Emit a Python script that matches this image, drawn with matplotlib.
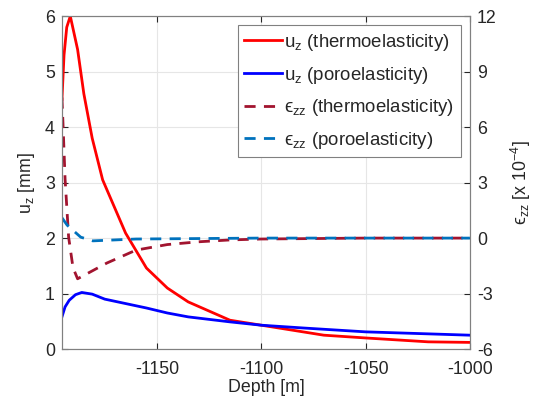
import matplotlib
matplotlib.use("Agg")
import matplotlib.pyplot as plt

plt.rcParams['font.family'] = ['Liberation Sans', 'DejaVu Sans']
plt.rcParams['mathtext.fontset'] = 'custom'
plt.rcParams['mathtext.rm'] = 'Liberation Sans'
plt.rcParams['mathtext.it'] = 'Liberation Sans:italic'
plt.rcParams['axes.unicode_minus'] = False

# u_z thermoelasticity [mm]
depth_ut = [-1195.5, -1194.5, -1193.2, -1191.5, -1188, -1185, -1181, -1176, -1165,
            -1155, -1145, -1135, -1115, -1100, -1080, -1070, -1050, -1020, -1000]
uz_thermo = [4.5, 5.3, 5.8, 6.0, 5.4, 4.6, 3.8, 3.05, 2.09,
             1.46, 1.10, 0.85, 0.52, 0.43, 0.31, 0.25, 0.20, 0.13, 0.12]

# u_z poroelasticity [mm]
depth_up = [-1195.5, -1194, -1192, -1189, -1186, -1181, -1175, -1165, -1155,
            -1145, -1135, -1115, -1100, -1080, -1050, -1000]
uz_poro = [0.58, 0.76, 0.88, 0.98, 1.02, 0.99, 0.90, 0.82, 0.74,
           0.65, 0.58, 0.49, 0.43, 0.38, 0.31, 0.25]

# eps_zz thermoelasticity [x 1e-4]
depth_et = [-1195.5, -1195, -1194, -1192.3, -1190.2, -1188, -1174, -1160,
            -1145, -1130, -1115, -1100, -1050, -1000]
ezz_thermo = [7.6, 6.2, 3.2, 0.05, -1.6, -2.2, -1.35, -0.65,
              -0.35, -0.2, -0.1, -0.05, 0.0, 0.0]

# eps_zz poroelasticity [x 1e-4]
depth_ep = [-1195.5, -1193, -1186.5, -1180.7, -1160, -1100, -1000]
ezz_poro = [1.1, 0.7, 0.05, -0.15, -0.05, 0.0, 0.0]

fig = plt.figure(figsize=(5.34, 4.04), dpi=100)
ax = fig.add_axes([0.116, 0.136, 0.764, 0.824])
ax2 = ax.twinx()

axcol = '#262626'
fs = 12.8
lfs = 13.4

l1, = ax.plot(depth_ut, uz_thermo, color='#ff0000', lw=2, label='u$_\\mathrm{z}$ (thermoelasticity)')
l2, = ax.plot(depth_up, uz_poro, color='#0000ff', lw=2, label='u$_\\mathrm{z}$ (poroelasticity)')
l3, = ax2.plot(depth_et, ezz_thermo, color='#a2142f', lw=2, ls=(0, (4, 3)),
               label='\u03f5$_\\mathrm{zz}$ (thermoelasticity)')
l4, = ax2.plot(depth_ep, ezz_poro, color='#0072bd', lw=2, ls=(0, (4, 3)),
               label='\u03f5$_\\mathrm{zz}$ (poroelasticity)')

ax.set_xlim(-1195.5, -1000)
ax.set_ylim(0, 6)
ax2.set_ylim(-6, 12)
ax.set_xticks([-1150, -1100, -1050, -1000])
ax.set_yticks(range(0, 7))
ax2.set_yticks(range(-6, 13, 3))

ax.grid(True, color='#e6e6e6', lw=0.8)
ax.set_axisbelow(True)

for a in (ax, ax2):
    a.tick_params(direction='in', length=4, width=0.8, colors=axcol, labelsize=fs,
                  top=True)
    for s in a.spines.values():
        s.set_color('#808080')
        s.set_linewidth(0.8)
ax.tick_params(axis='y', right=False)
ax.tick_params(axis='x', pad=8.5)
ax.tick_params(axis='y', pad=5)
ax2.tick_params(axis='y', pad=5)

ax.set_xlabel('Depth [m]', fontsize=fs, color=axcol, labelpad=1)
ax.set_ylabel('u$_\\mathrm{z}$ [mm]', fontsize=fs, color=axcol, labelpad=6)
ax2.set_ylabel('\u03f5$_\\mathrm{zz}$ [x 10$^{-4}$]', fontsize=fs, color=axcol, labelpad=9)

leg = ax.legend(handles=[l1, l2, l3, l4], loc='upper right', fontsize=lfs,
                frameon=True, fancybox=False, edgecolor='#808080',
                framealpha=1, handlelength=2.0, handletextpad=0.15,
                borderaxespad=0.5, labelspacing=0.62, borderpad=0.35)
leg.get_frame().set_linewidth(0.8)
for t in leg.get_texts():
    t.set_color(axcol)

fig.savefig('out.png', dpi=100)
